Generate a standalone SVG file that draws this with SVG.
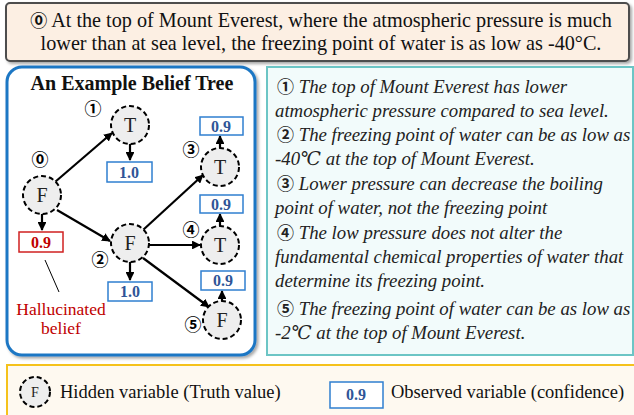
<svg xmlns="http://www.w3.org/2000/svg" width="634" height="415" viewBox="0 0 634 415">
<defs>
<marker id="ah" viewBox="0 0 10 10" refX="9" refY="5" markerWidth="4" markerHeight="4" orient="auto" markerUnits="strokeWidth">
<path d="M0,0 L10,5 L0,10 z" fill="#000"/>
</marker>
<filter id="sh" x="-5%" y="-5%" width="110%" height="115%">
<feDropShadow dx="2" dy="2" stdDeviation="1.5" flood-color="#000" flood-opacity="0.35"/>
</filter>
</defs>
<style>
.serif{font-family:"Liberation Serif","DejaVu Serif",serif;}
.num{font-family:"Noto Sans CJK SC","DejaVu Sans",sans-serif;font-style:normal;font-weight:bold;}
.node{fill:#eeeeee;stroke:#000;stroke-width:2;stroke-dasharray:5,3;}
.nl{font-family:"Liberation Serif",serif;font-size:20px;text-anchor:middle;fill:#222;}
.obs{fill:#fff;stroke:#2f7fd0;stroke-width:1.5;}
.obt{font-family:"Liberation Serif",serif;font-size:16px;font-weight:bold;text-anchor:middle;fill:#2f5597;}
.cn{font-family:"Noto Sans CJK SC","DejaVu Sans",sans-serif;font-size:17px;font-weight:bold;text-anchor:middle;fill:#000;}
.edge{stroke:#000;stroke-width:2.2;fill:none;marker-end:url(#ah);}
.rt{font-family:"Liberation Serif","DejaVu Serif",serif;font-size:18.8px;font-style:italic;fill:#222;}
</style>
<rect width="634" height="415" fill="#fff"/>

<!-- top box -->
<g id="claim">
<rect x="6" y="3" width="623" height="58" rx="4" fill="#fcefe3" stroke="#4d4d4d" stroke-width="2" filter="url(#sh)"/>
<text class="serif" x="321" y="27" font-size="20.2" text-anchor="middle" fill="#111"><tspan class="num" font-size="17">⓪</tspan> At the top of Mount Everest, where the atmospheric pressure is much</text>
<text class="serif" x="321" y="50" font-size="20.2" text-anchor="middle" fill="#111">lower than at sea level, the freezing point of water is as low as -40°C.</text>
</g>

<!-- left panel -->
<g id="tree-panel">
<rect x="7" y="67" width="248" height="288" rx="15" fill="#fff" stroke="#1f77c4" stroke-width="3" filter="url(#sh)"/>
<text class="serif" x="132" y="90" font-size="20" font-weight="bold" text-anchor="middle" fill="#111">An Example Belief Tree</text>
</g>

<!-- right panel -->
<g id="statements">
<rect x="267" y="67" width="366" height="288" fill="#f2fbfb" stroke="#6cc5c5" stroke-width="2"/>
<text class="rt" x="277" y="93"><tspan class="num" font-size="17">①</tspan> The top of Mount Everest has lower</text>
<text class="rt" x="275" y="117">atmospheric pressure compared to sea level.</text>
<text class="rt" x="277" y="141"><tspan class="num" font-size="17">②</tspan> The freezing point of water can be as low as</text>
<text class="rt" x="275" y="165">-40℃ at the top of Mount Everest.</text>
<text class="rt" x="277" y="190"><tspan class="num" font-size="17">③</tspan> Lower pressure can decrease the boiling</text>
<text class="rt" x="275" y="214">point of water, not the freezing point</text>
<text class="rt" x="277" y="239"><tspan class="num" font-size="17">④</tspan> The low pressure does not alter the</text>
<text class="rt" x="275" y="263">fundamental chemical properties of water that</text>
<text class="rt" x="275" y="287">determine its freezing point.</text>
<text class="rt" x="277" y="315"><tspan class="num" font-size="17">⑤</tspan> The freezing point of water can be as low as</text>
<text class="rt" x="275" y="339">-2℃ at the top of Mount Everest.</text>
</g>

<!-- connectors -->
<g id="connectors">
<line class="edge" x1="55" y1="182" x2="112" y2="133"/>
<line class="edge" x1="57" y1="210" x2="110" y2="241"/>
<line class="edge" x1="42" y1="214" x2="42" y2="230"/>
<line class="edge" x1="130" y1="144" x2="130" y2="160"/>
<line class="edge" x1="130" y1="262" x2="130" y2="280"/>
<line class="edge" x1="143" y1="230" x2="203" y2="175"/>
<line class="edge" x1="149" y1="245" x2="200" y2="245"/>
<line class="edge" x1="143" y1="258" x2="209" y2="307"/>
<line class="edge" x1="220" y1="148" x2="220" y2="136"/>
<line class="edge" x1="220" y1="226" x2="220" y2="214"/>
<line class="edge" x1="222" y1="301" x2="222" y2="291"/>
<line x1="45" y1="260" x2="59" y2="292" stroke="#000" stroke-width="1"/>
</g>

<!-- nodes -->
<g id="n0">
<circle class="node" cx="42" cy="195" r="19"/>
<text class="nl" x="42" y="202">F</text>
<text class="cn" x="40" y="166">⓪</text>
<rect x="19" y="232" width="44" height="20" fill="#fff" stroke="#d02020" stroke-width="1.5"/>
<text class="obt" x="41" y="248" style="fill:#c00000">0.9</text>
<text class="serif" x="61" y="315" font-size="17.5" text-anchor="middle" fill="#c00000">Hallucinated</text>
<text class="serif" x="61" y="334" font-size="17.5" text-anchor="middle" fill="#c00000">belief</text>
</g>
<g id="n1">
<circle class="node" cx="130" cy="125" r="19"/>
<text class="nl" x="130" y="132">T</text>
<text class="cn" x="93" y="115">①</text>
<rect class="obs" x="107" y="162" width="45" height="20"/>
<text class="obt" x="129" y="178">1.0</text>
</g>
<g id="n2">
<circle class="node" cx="130" cy="243" r="19"/>
<text class="nl" x="130" y="250">F</text>
<text class="cn" x="100" y="266">②</text>
<rect class="obs" x="108" y="282" width="44" height="19"/>
<text class="obt" x="130" y="297">1.0</text>
</g>
<g id="n3">
<circle class="node" cx="220" cy="167" r="19"/>
<text class="nl" x="220" y="174">T</text>
<text class="cn" x="191" y="156">③</text>
<rect class="obs" x="200" y="117" width="43" height="18"/>
<text class="obt" x="221" y="132">0.9</text>
</g>
<g id="n4">
<circle class="node" cx="220" cy="245" r="19"/>
<text class="nl" x="220" y="252">T</text>
<text class="cn" x="191" y="236">④</text>
<rect class="obs" x="200" y="195" width="43" height="18"/>
<text class="obt" x="221" y="210">0.9</text>
</g>
<g id="n5">
<circle class="node" cx="222" cy="320" r="19"/>
<text class="nl" x="222" y="327">F</text>
<text class="cn" x="193" y="331">⑤</text>
<rect class="obs" x="201" y="271" width="44" height="19"/>
<text class="obt" x="223" y="286">0.9</text>
</g>

<!-- legend -->
<g id="legend">
<rect x="7" y="365" width="640" height="60" fill="#fef9f0" stroke="#f5c21c" stroke-width="2"/>
<circle class="node" cx="35" cy="392" r="15"/>
<text class="serif" x="35" y="397" font-size="14" text-anchor="middle" fill="#222">F</text>
<text class="serif" x="60" y="398" font-size="18.5" fill="#111">Hidden variable (Truth value)</text>
<rect class="obs" x="330" y="382" width="53" height="26"/>
<text class="obt" x="356" y="400">0.9</text>
<text class="serif" x="391" y="398" font-size="18.5" fill="#111">Observed variable (confidence)</text>
</g>
</svg>
